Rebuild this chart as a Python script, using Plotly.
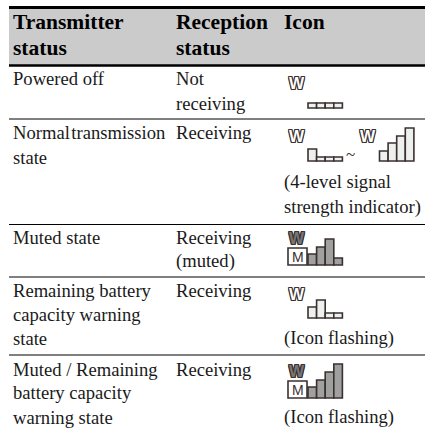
import plotly.graph_objects as go

HEADERS = [["Transmitter", "status"], ["Reception", "status"], ["Icon"]]
TRANSMITTER = [
    ["Powered off"],
    ["Normal\u200atransmission", "state"],
    ["Muted state"],
    ["Remaining battery", "capacity warning", "state"],
    ["Muted / Remaining", "battery capacity", "warning state"],
]
RECEPTION = [
    ["Not", "receiving"],
    ["Receiving"],
    ["Receiving", "(muted)"],
    ["Receiving"],
    ["Receiving"],
]
ICON_NOTES = [
    [],
    ["(4-level signal", "strength indicator)"],
    [],
    ["(Icon flashing)"],
    ["(Icon flashing)"],
]
SIGNAL_OFF = [5, 5, 5, 5]
SIGNAL_LOW = [12, 4, 4, 4]
SIGNAL_FULL = [10, 18, 25, 33]
SIGNAL_MUTED = [11, 18, 26, 7]
SIGNAL_WARN = [11, 18, 5, 5]
SIGNAL_MUTED_WARN = [11, 18, 26, 34]

SERIF = "Liberation Serif"
INK = "#1a1a1a"
LINE = "#3b3030"
LIGHT = "#eef0f0"
GREY = "#a0a0a0"
COL_X = [14, 177, 285]
HEADER_BASE = [27, 53]
ROW_BASE = [[83, 108], [137, 162], [242, 266], [295, 319, 343], [374, 397, 422]]
NOTE_BASE = [[], [187, 212], [], [343], [422]]
RULES = [(7.5, 3), (65.5, 2.5), (119, 1), (224.5, 1), (277, 1), (355, 1)]
OUTLINE = ",".join(f"{dx}px {dy}px 0 #3b3030" for dx, dy in
                   [(-1, -1), (1, -1), (-1, 1), (1, 1), (0, -1), (0, 1), (-1, 0), (1, 0)])

fig = go.Figure()
shapes = [dict(type="rect", x0=9, x1=425, y0=8, y1=65, fillcolor="#cbcbcb", line_width=0, layer="below")]
for y, w in RULES:
    shapes.append(dict(type="line", x0=9, x1=425, y0=y, y1=y, line=dict(color="#000000", width=w)))

def label(x, base, s, size=18.6, bold=False, color=INK):
    fig.add_annotation(x=x, y=base - 5, text=f"<b>{s}</b>" if bold else s, showarrow=False,
                       xanchor="left", yanchor="middle",
                       font=dict(family=SERIF, size=size, color=color), borderpad=0, borderwidth=0)

for col, hdr in enumerate(HEADERS):
    for line, b in zip(hdr, HEADER_BASE):
        label(COL_X[col] - 1, b, line, size=21.5, bold=True, color="#000000")
for i in range(5):
    for line, b in zip(TRANSMITTER[i], ROW_BASE[i]):
        label(COL_X[0] - 1, b, line)
    for line, b in zip(RECEPTION[i], ROW_BASE[i]):
        label(COL_X[1] - 1, b, line)
    for line, b in zip(ICON_NOTES[i], NOTE_BASE[i]):
        label(COL_X[2] - 1, b, line)

def bars(x0, baseline, heights, fill):
    step = 8.6
    fig.add_bar(x=[x0 + step * (k + 0.5) for k in range(len(heights))], y=[-h for h in heights],
                base=baseline, width=step,
                marker=dict(color=fill, line=dict(color=LINE, width=1.6)), hoverinfo="skip", showlegend=False)

def wicon(x, y, fill="white"):
    fig.add_annotation(x=x, y=y, text="<b>W</b>", showarrow=False, xanchor="center", yanchor="middle",
                       font=dict(family="Liberation Sans", size=16, color=fill, shadow=OUTLINE))

def mbox(x0, y0, y1):
    shapes.append(dict(type="rect", x0=x0, x1=x0 + 19, y0=y0, y1=y1, fillcolor="white",
                       line=dict(color=LINE, width=1.6)))
    fig.add_annotation(x=x0 + 9.5, y=(y0 + y1) / 2 + 0.5, text="M", showarrow=False,
                       font=dict(family="Liberation Sans", size=14, color=LINE))

bars(308, 108, SIGNAL_OFF, LIGHT)
wicon(297, 83)
bars(308, 161, SIGNAL_LOW, LIGHT)
wicon(297, 136)
fig.add_annotation(x=350, y=154, text="~", showarrow=False, font=dict(family=SERIF, size=17, color=LINE))
bars(379.5, 161, SIGNAL_FULL, LIGHT)
wicon(368, 136)
bars(308, 265, SIGNAL_MUTED, GREY)
wicon(297, 238.5, "#777777")
mbox(288, 248, 265)
bars(308, 318, SIGNAL_WARN, LIGHT)
wicon(297, 294)
bars(308, 398, SIGNAL_MUTED_WARN, GREY)
wicon(297, 371.5, "#777777")
mbox(288, 381, 398)

fig.update_layout(width=425, height=432, margin=dict(l=0, r=0, t=0, b=0), shapes=shapes,
                  barmode="overlay", paper_bgcolor="white", plot_bgcolor="white", showlegend=False,
                  xaxis=dict(range=[0, 425], visible=False, fixedrange=True),
                  yaxis=dict(range=[432, 0], visible=False, fixedrange=True))
fig.write_html("out.html", config={"displayModeBar": False},
               post_script="document.body.style.margin='0';document.body.style.overflow='hidden';")
